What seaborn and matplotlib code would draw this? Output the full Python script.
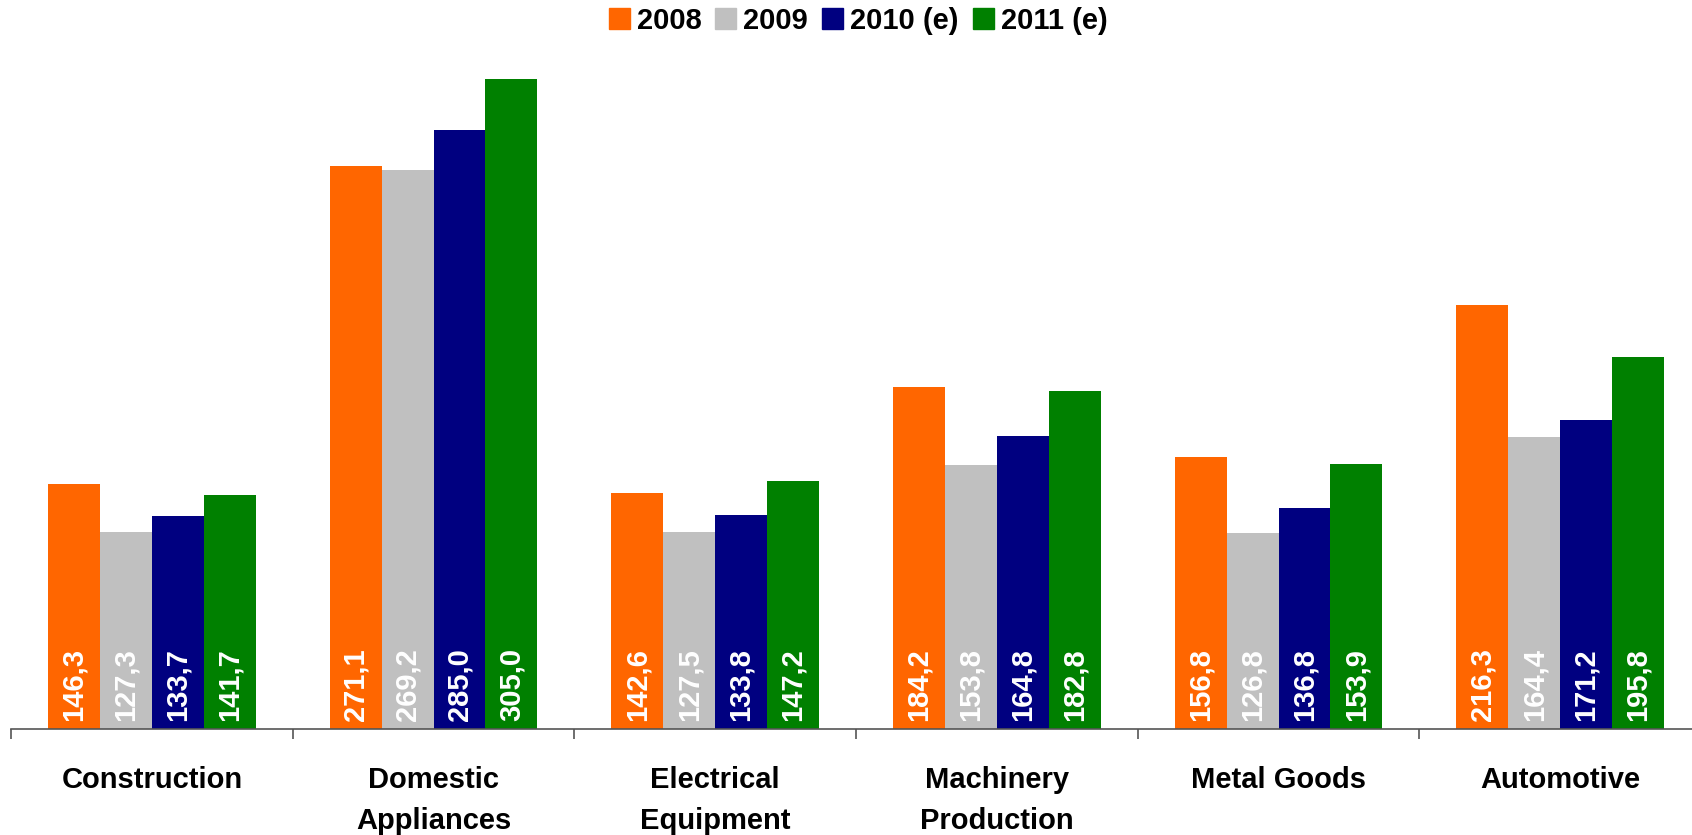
import matplotlib
matplotlib.use("Agg")
import matplotlib.pyplot as plt
import seaborn as sns
import pandas as pd

categories = ["Construction", "Domestic\nAppliances", "Electrical\nEquipment",
              "Machinery\nProduction", "Metal Goods", "Automotive"]
series = ["2008", "2009", "2010 (e)", "2011 (e)"]
v2008 = [146.3, 271.1, 142.6, 184.2, 156.8, 216.3]
v2009 = [127.3, 269.2, 127.5, 153.8, 126.8, 164.4]
v2010 = [133.7, 285.0, 133.8, 164.8, 136.8, 171.2]
v2011 = [141.7, 305.0, 147.2, 182.8, 153.9, 195.8]
colors = ["#FF6600", "#C0C0C0", "#000080", "#008000"]

rows = []
for s, vals in zip(series, [v2008, v2009, v2010, v2011]):
    for c, v in zip(categories, vals):
        rows.append({"category": c, "series": s, "value": v})
df = pd.DataFrame(rows)

sns.set_style("white")
plt.rcParams["font.family"] = ["Liberation Sans", "DejaVu Sans"]
plt.rcParams["text.color"] = "black"
plt.rcParams["xtick.color"] = "#555555"
plt.rcParams["xtick.labelcolor"] = "black"

fig = plt.figure(figsize=(16.92, 8.35), dpi=100)
ax = fig.add_axes([11 / 1692, 106 / 835, 1690 / 1692, 688 / 835])

sns.barplot(data=df, x="category", y="value", hue="series", order=categories,
            hue_order=series, palette=colors, width=0.737, saturation=1,
            linewidth=0, ax=ax, legend=True, errorbar=None)

ax.set_ylim(50, 320)
ax.set_xlim(-0.5, len(categories) - 0.5)
ax.set_xlabel("")
ax.set_ylabel("")
ax.set_yticks([])
for side in ["left", "right", "top"]:
    ax.spines[side].set_visible(False)
ax.spines["bottom"].set_color("#555555")
ax.spines["bottom"].set_linewidth(1.2)

ax.set_xticks(range(len(categories)))
ax.set_xticklabels(categories, fontsize=21, fontweight="bold", linespacing=1.57,
                   color="black")
ax.tick_params(axis="x", which="major", length=0, pad=27)
ax.set_xticks([i - 0.5 for i in range(len(categories) + 1)], minor=True)
ax.tick_params(axis="x", which="minor", bottom=True, length=7.5, width=1.2,
               color="#555555", direction="out")

for container in ax.containers:
    for bar, val in zip(container, container.datavalues):
        ax.annotate(f"{val:.1f}".replace(".", ","),
                    xy=(bar.get_x() + bar.get_width() / 2, 50),
                    xytext=(0, 6), textcoords="offset points",
                    rotation=90, ha="center", va="bottom",
                    color="white", fontsize=21, fontweight="bold")

ax.get_legend().remove()
handles = [plt.Rectangle((0, 0), 1, 1, color=c) for c in colors]
fig.legend(handles, series, loc="upper center", bbox_to_anchor=(858 / 1692, 1.006),
           ncol=4, frameon=False,
           prop={"weight": "bold", "size": 21},
           handlelength=0.72, handleheight=0.72, handletextpad=0.24,
           columnspacing=0.48, borderaxespad=0)

fig.savefig("out.png", dpi=100)
